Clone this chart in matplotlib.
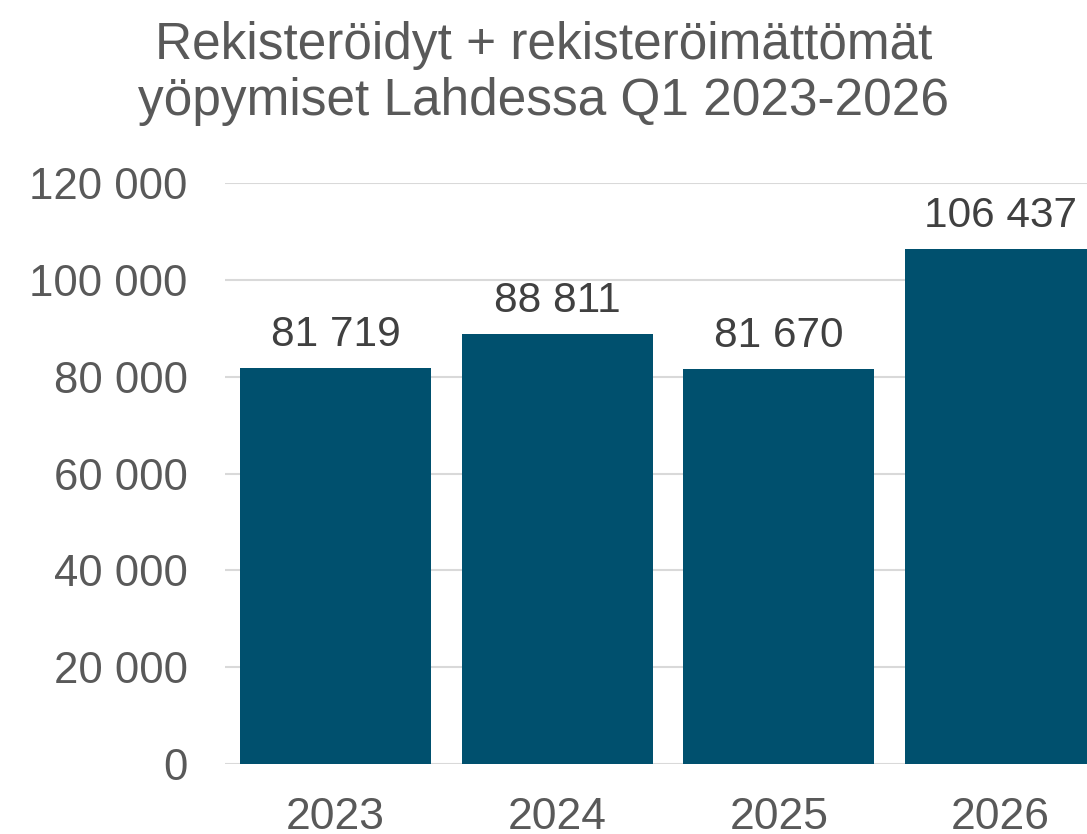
import matplotlib
matplotlib.use("Agg")
import matplotlib.pyplot as plt
from matplotlib.ticker import FuncFormatter

# Data
years = ["2023", "2024", "2025", "2026"]
stays = [81719, 88811, 81670, 106437]
title = "Rekisteröidyt + rekisteröimättömät\nyöpymiset Lahdessa Q1 2023-2026"

bar_color = "#00506E"
tick_color = "#595959"
label_color = "#404040"

plt.rcParams['font.family'] = ['Liberation Sans', 'DejaVu Sans']

fig = plt.figure(figsize=(10.87, 8.34), dpi=100)
ax = fig.add_axes([225 / 1087, 70 / 834, 886 / 1087, 581 / 834])

x = range(len(years))
bars = ax.bar(x, stays, width=0.862, color=bar_color, zorder=3)

def fmt(v):
    return f"{int(v):,}".replace(",", " ")

for rect, v in zip(bars, stays):
    ax.text(rect.get_x() + rect.get_width() / 2, v + 2700, fmt(v),
            ha="center", va="bottom", fontsize=30.5, color=label_color)

ax.set_xlim(-0.5, len(years) - 0.5)
ax.set_ylim(0, 120000)
ax.set_yticks(range(0, 120001, 20000))
ax.yaxis.set_major_formatter(FuncFormatter(lambda v, p: fmt(v)))
ax.set_xticks(list(x))
ax.set_xticklabels(years)
ax.tick_params(axis="y", length=0, labelsize=31.5, colors=tick_color, pad=27)
ax.tick_params(axis="x", length=0, labelsize=32, colors=tick_color, pad=24)
ax.grid(axis="y", color="#D9D9D9", linewidth=1.5, zorder=0)
for s in ax.spines.values():
    s.set_visible(False)

fig.text(0.5, 0.912, title, ha="center", va="center", fontsize=37,
         color=tick_color, linespacing=1.17)

fig.savefig("out.png", dpi=100)
